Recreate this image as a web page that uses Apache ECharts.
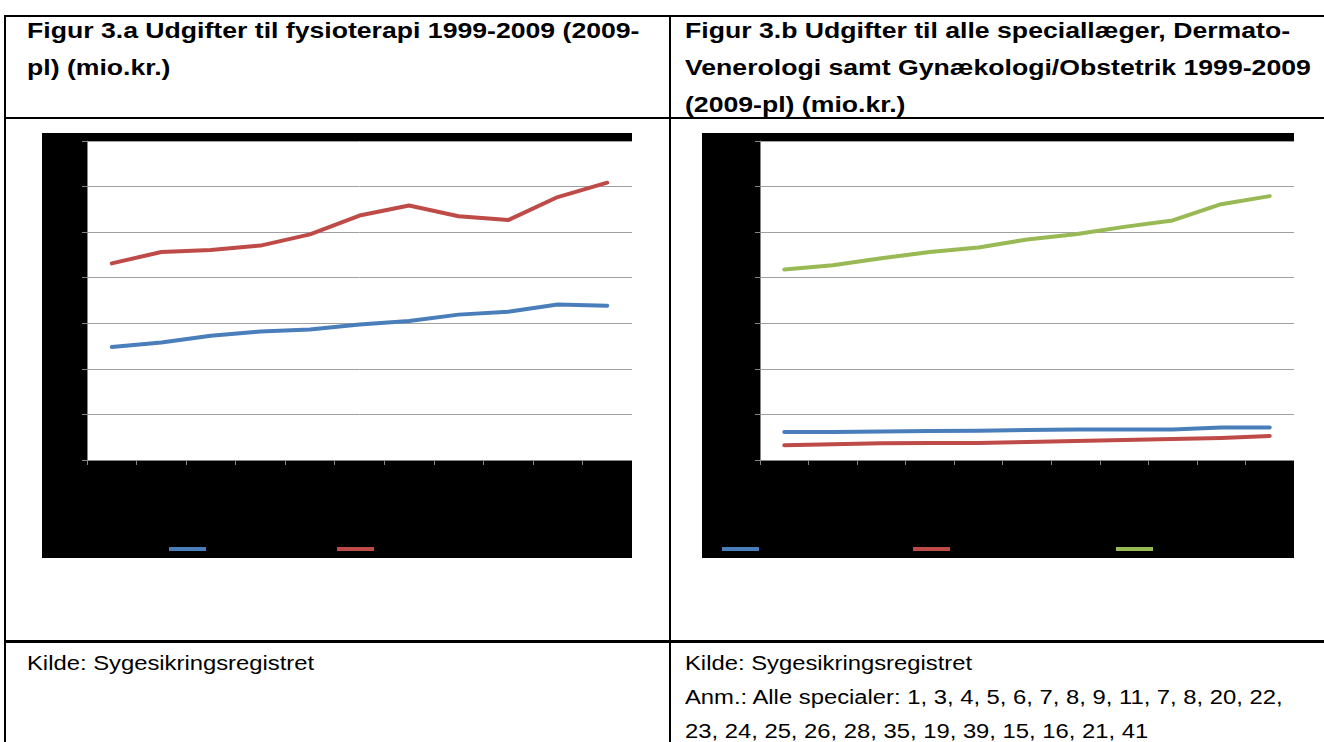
<!DOCTYPE html>
<html>
<head>
<meta charset="utf-8">
<script src="https://cdn.jsdelivr.net/npm/echarts@6/dist/echarts.min.js"></script>
<style>
  body { margin: 0; background: #fff; width: 1324px; height: 742px; overflow: hidden; position: relative; font-family: "Liberation Sans", Arial, sans-serif; }
  .ln { position: absolute; background: #000; }
  .title { position: absolute; font-weight: bold; font-size: 22px; line-height: 37px; white-space: nowrap; transform: scaleX(1.21); transform-origin: left top; color: #000; }
  .note { position: absolute; font-size: 20px; line-height: 34px; white-space: nowrap; transform: scaleX(1.19); transform-origin: left top; color: #000; }
  .chart { position: absolute; }
</style>
</head>
<body>
<div class="ln" style="left:4px;top:15px;width:1320px;height:2px"></div>
<div class="ln" style="left:4px;top:15px;width:2px;height:727px"></div>
<div class="ln" style="left:669px;top:15px;width:2px;height:727px"></div>
<div class="ln" style="left:4px;top:117px;width:1320px;height:2px"></div>
<div class="ln" style="left:4px;top:640px;width:1320px;height:3px"></div>

<div class="title" style="left:27px;top:12px">Figur 3.a Udgifter til fysioterapi 1999-2009 (2009-<br>pl) (mio.kr.)</div>
<div class="title" style="left:685px;top:12px">Figur 3.b Udgifter til alle speciallæger, Dermato-<br>Venerologi samt Gynækologi/Obstetrik 1999-2009<br>(2009-pl) (mio.kr.)</div>

<div id="chart-a" class="chart" style="left:42px;top:133px;width:590px;height:425px"></div>
<div id="chart-b" class="chart" style="left:702px;top:133px;width:592px;height:425px"></div>

<div class="note" style="left:27px;top:646px">Kilde: Sygesikringsregistret</div>
<div class="note" style="left:685px;top:646px">Kilde: Sygesikringsregistret<br>Anm.: Alle specialer: 1, 3, 4, 5, 6, 7, 8, 9, 11, 7, 8, 20, 22,<br>23, 24, 25, 26, 28, 35, 19, 39, 15, 16, 21, 41</div>

<script>
const years = ['1999', '2000', '2001', '2002', '2003', '2004', '2005', '2006', '2007', '2008', '2009'];

// Figur 3.a (mio.kr.)
const vederlagsfri = [496, 516, 545, 564, 573, 595, 610, 638, 651, 682, 677];
const almindelig = [863, 913, 922, 941, 990, 1073, 1117, 1070, 1053, 1154, 1217];

// Figur 3.b (mio.kr.)
const dermato = [308, 308, 312, 319, 322, 330, 334, 334, 334, 356, 356];
const gynae = [161, 172, 183, 187, 187, 198, 209, 220, 231, 242, 264];
const alleSpec = [2089, 2137, 2214, 2283, 2331, 2419, 2477, 2558, 2628, 2807, 2895];

const BLUE = '#4A7EBB', RED = '#BE4B48', GREEN = '#98B954';
const AXIS = '#868686', GRID = '#a0a0a0';

function lineSeries(name, data, color) {
    return {
        name: name,
        type: 'line',
        data: data,
        symbol: 'none',
        lineStyle: { width: 4, color: color, cap: 'round', join: 'round' },
        itemStyle: { color: color }
    };
}

function legendItem(name, left) {
    return {
        data: [name],
        left: left,
        top: 410,
        padding: 0,
        icon: 'rect',
        itemWidth: 37,
        itemHeight: 4,
        itemGap: 0,
        textStyle: { color: '#000', fontSize: 12 }
    };
}

function makeChart(id, gridLeft, gridRight, yMax, yStep, series, legends) {
    const chart = echarts.init(document.getElementById(id));
    chart.setOption({
        backgroundColor: '#000',
        animation: false,
        legend: legends,
        grid: {
            left: gridLeft, right: gridRight, top: 8, bottom: 98,
            show: true, backgroundColor: '#fff', borderWidth: 0
        },
        xAxis: {
            type: 'category',
            data: years,
            boundaryGap: true,
            axisLine: { lineStyle: { color: AXIS, width: 1 } },
            axisTick: { show: true, length: 5, lineStyle: { color: AXIS } },
            axisLabel: { color: '#000', fontSize: 12 }
        },
        yAxis: {
            type: 'value',
            min: 0, max: yMax, interval: yStep,
            axisLine: { show: true, lineStyle: { color: AXIS, width: 1 } },
            axisTick: { show: true, length: 5, lineStyle: { color: AXIS } },
            axisLabel: { color: '#000', fontSize: 12 },
            splitLine: { lineStyle: { color: GRID, width: 1 } }
        },
        series: series
    });
}

makeChart('chart-a', 45, -5, 1400, 200,
    [lineSeries('Vederlagsfri fysioterapi', vederlagsfri, BLUE),
     lineSeries('Almindelig fysioterapi', almindelig, RED)],
    [legendItem('Vederlagsfri fysioterapi', 127),
     legendItem('Almindelig fysioterapi', 295)]);

makeChart('chart-b', 58, -5, 3500, 500,
    [lineSeries('Dermato-Venerologi', dermato, BLUE),
     lineSeries('Gynækologi/Obstetrik', gynae, RED),
     lineSeries('Alle speciallæger', alleSpec, GREEN)],
    [legendItem('Dermato-Venerologi', 20),
     legendItem('Gynækologi/Obstetrik', 211),
     legendItem('Alle speciallæger', 414)]);
</script>
</body>
</html>
